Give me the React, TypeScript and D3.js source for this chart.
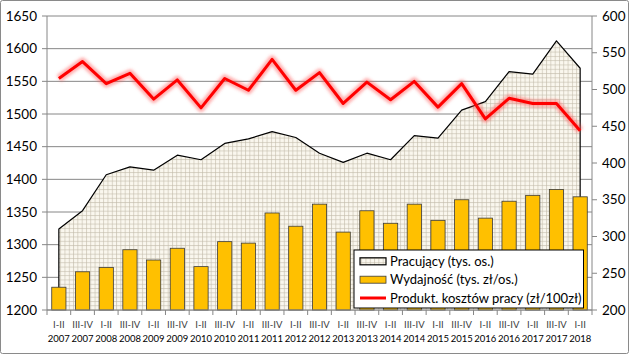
import React from "react";
import * as d3 from "d3";

const periods = ["I-II","III-IV","I-II","III-IV","I-II","III-IV","I-II","III-IV","I-II","III-IV","I-II","III-IV","I-II","III-IV","I-II","III-IV","I-II","III-IV","I-II","III-IV","I-II","III-IV","I-II"];
const years = ["2007","2007","2008","2008","2009","2009","2010","2010","2011","2011","2012","2012","2013","2013","2014","2014","2015","2015","2016","2016","2017","2017","2018"];
const pracujacy = [1324,1352,1407,1419,1414,1437,1430,1455,1462,1473,1464,1440,1426,1440,1430,1467,1463,1506,1519,1565,1561,1612,1570];
const wydajnosc = [231,252,258,282,268,284,259,293,291,332,314,344,306,335,318,344,322,350,325,348,356,364,354];
const produkt = [515,538,508,522,487,513,475,515,499,541,499,523,481,510,486,511,476,508,460,488,481,481,444];
const leftTicks = [1200,1250,1300,1350,1400,1450,1500,1550,1600,1650];
const rightTicks = [200,250,300,350,400,450,500,550,600];
const legendLabels = ["Pracujący (tys. os.)","Wydajność (tys. zł/os.)","Produkt. kosztów pracy (zł/100zł)"];

const W = 629, H = 354;
const L = 47, R = 592, T = 16, B = 310;
const FONT = "Lato, 'Open Sans', sans-serif";
const AXIS = "#868686";
const TEXT = "#404040";

export default function App() {
  const idx = periods.map((_, i) => i);
  const x = d3.scaleBand<number>().domain(idx).range([L, R]).paddingInner(0.4).paddingOuter(0.2);
  const yL = d3.scaleLinear().domain([1200, 1650]).range([B, T]);
  const yR = d3.scaleLinear().domain([200, 600]).range([B, T]);
  const cx = (i: number) => (x(i) as number) + x.bandwidth() / 2;

  const areaPath = d3.area<number>().x((d, i) => cx(i)).y0(B).y1((d) => yL(d))(pracujacy) as string;
  const areaOutline = (() => {
    const p = d3.path();
    p.moveTo(cx(0), B);
    pracujacy.forEach((d, i) => p.lineTo(cx(i), yL(d)));
    p.lineTo(cx(pracujacy.length - 1), B);
    return p.toString();
  })();
  const redPath = d3.line<number>().x((d, i) => cx(i)).y((d) => yR(d))(produkt) as string;

  const bounds = d3.range(periods.length + 1).map((i) => L + i * (R - L) / periods.length);

  const lgX = 354, lgY = 250, lgW = 229.5, lgH = 58;
  const rows = [261.3, 279.7, 298];

  return (
    <svg width={W} height={H} style={{ position: "absolute", left: 0, top: 0 }} fontFamily={FONT}>
      <defs>
        <pattern id="grid" width="4.3" height="4.3" patternUnits="userSpaceOnUse">
          <rect width="4.3" height="4.3" fill="#faf7ee" />
          <path d="M0 0.5 H4.3 M0.5 0 V4.3" stroke="#c2baa8" strokeWidth="0.6" fill="none" />
        </pattern>
        <filter id="glow" x="-5%" y="-20%" width="110%" height="140%">
          <feGaussianBlur stdDeviation="1.8" />
        </filter>
      </defs>
      <rect x={0} y={0} width={W} height={H} fill="#fff" />
      <rect x={0.5} y={0.5} width={W - 1} height={H - 1} fill="none" stroke="#8a8a8a" strokeWidth={1} rx={2} />

      {leftTicks.map((t) => (
        <line key={"g" + t} x1={L} x2={R} y1={yL(t)} y2={yL(t)} stroke={AXIS} strokeWidth={1} />
      ))}

      <path d={areaPath} fill="url(#grid)" />
      <path d={areaOutline} fill="none" stroke="#000" strokeWidth={1.2} strokeLinejoin="round" />

      {wydajnosc.map((d, i) => (
        <rect key={"b" + i} x={x(i)} y={yR(d)} width={x.bandwidth()} height={B - yR(d)} fill="#FFC000" stroke="#3a3a3a" strokeWidth={0.8} />
      ))}

      <path d={redPath} fill="none" stroke="#ff5050" strokeOpacity={0.45} strokeWidth={8} strokeLinejoin="round" filter="url(#glow)" />
      <path d={redPath} fill="none" stroke="#ff0000" strokeWidth={3} strokeLinejoin="round" />

      <line x1={L} x2={L} y1={T} y2={B} stroke={AXIS} />
      <line x1={R} x2={R} y1={T} y2={B} stroke={AXIS} />
      <line x1={L} x2={R} y1={B} y2={B} stroke={AXIS} />
      {leftTicks.map((t) => (
        <g key={"l" + t}>
          <line x1={L - 5} x2={L} y1={yL(t)} y2={yL(t)} stroke={AXIS} />
          <text x={L - 10} y={yL(t)} dy="0.35em" textAnchor="end" fontSize={13.5} fill="#000">{t}</text>
        </g>
      ))}
      {rightTicks.map((t) => (
        <g key={"r" + t}>
          <line x1={R} x2={R + 5} y1={yR(t)} y2={yR(t)} stroke={AXIS} />
          <text x={R + 10} y={yR(t)} dy="0.35em" textAnchor="start" fontSize={13.5} fill="#000">{t}</text>
        </g>
      ))}
      {bounds.map((bx, i) => (
        <line key={"xt" + i} x1={bx} x2={bx} y1={B} y2={B + 5} stroke={AXIS} />
      ))}
      {periods.map((p, i) => (
        <g key={"xl" + i}>
          <text x={cx(i)} y={325} dy="0.35em" textAnchor="middle" fontSize={9.5} fill={TEXT}>{p}</text>
          <text x={cx(i)} y={339} dy="0.35em" textAnchor="middle" fontSize={9.5} fill="#000">{years[i]}</text>
        </g>
      ))}

      <rect x={lgX} y={lgY} width={lgW} height={lgH} fill="#fff" stroke="#000" strokeWidth={1} />
      <rect x={360} y={rows[0] - 3.5} width={26} height={7} fill="url(#grid)" stroke="#000" strokeWidth={1.2} />
      <rect x={360} y={rows[1] - 3.5} width={26} height={7} fill="#FFC000" stroke="#3a3a3a" strokeWidth={0.8} />
      <line x1={360} x2={386} y1={rows[2]} y2={rows[2]} stroke="#ff0000" strokeWidth={3} />
      {legendLabels.map((l, i) => (
        <text key={"lg" + i} x={390} y={rows[i]} dy="0.35em" fontSize={13} fill="#000">{l}</text>
      ))}
    </svg>
  );
}
